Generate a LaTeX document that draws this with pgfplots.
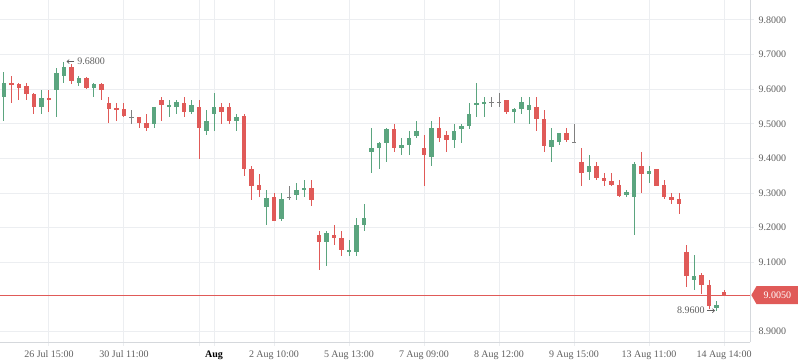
\documentclass[border=0pt]{standalone}
\usepackage{fontspec}
\setmainfont{Liberation Serif}
\usepackage{pgfplots}
\usepackage{pgfplotstable}
\pgfplotsset{compat=1.18}
\usetikzlibrary{shapes.symbols,arrows.meta}
\definecolor{upg}{HTML}{5BA57F}
\definecolor{dnr}{HTML}{E05A58}
\definecolor{dojig}{HTML}{808080}
\definecolor{gridc}{HTML}{ECEEF1}
\definecolor{axc}{HTML}{D5D8DC}
\definecolor{labc}{HTML}{5F5F5F}

% up candles
\pgfplotstableread{
i o h l c
0 9.578 9.649 9.509 9.617
5 9.550 9.598 9.528 9.575
7 9.599 9.661 9.521 9.646
8 9.639 9.680 9.619 9.665
10 9.619 9.639 9.610 9.632
12 9.604 9.618 9.578 9.616
20 9.500 9.549 9.489 9.549
22 9.550 9.569 9.521 9.555
23 9.550 9.569 9.529 9.562
25 9.535 9.569 9.528 9.554
27 9.480 9.539 9.469 9.508
28 9.529 9.589 9.480 9.549
31 9.509 9.528 9.480 9.519
35 9.260 9.309 9.208 9.286
37 9.226 9.299 9.220 9.283
39 9.295 9.329 9.280 9.309
40 9.309 9.338 9.288 9.315
43 9.158 9.190 9.089 9.184
46 9.130 9.164 9.118 9.135
47 9.130 9.228 9.118 9.208
48 9.208 9.268 9.190 9.228
49 9.418 9.488 9.358 9.430
50 9.430 9.448 9.369 9.445
51 9.445 9.488 9.390 9.485
53 9.430 9.459 9.410 9.439
54 9.439 9.479 9.410 9.459
55 9.465 9.508 9.459 9.479
57 9.404 9.508 9.378 9.488
60 9.453 9.500 9.430 9.479
61 9.485 9.500 9.445 9.494
62 9.494 9.560 9.485 9.528
63 9.557 9.618 9.521 9.560
64 9.560 9.577 9.521 9.563
68 9.534 9.546 9.502 9.543
69 9.543 9.577 9.528 9.563
70 9.540 9.577 9.499 9.554
73 9.433 9.488 9.390 9.453
74 9.448 9.473 9.439 9.473
78 9.362 9.410 9.338 9.378
83 9.294 9.309 9.289 9.303
84 9.289 9.390 9.179 9.384
86 9.355 9.378 9.329 9.364
92 9.049 9.121 9.020 9.060
95 8.968 8.988 8.960 8.976
}\upt

% down candles
\pgfplotstableread{
i o h l c
1 9.617 9.639 9.561 9.614
2 9.616 9.618 9.569 9.604
3 9.609 9.619 9.570 9.585
4 9.587 9.590 9.528 9.550
6 9.575 9.598 9.533 9.569
9 9.665 9.673 9.614 9.624
11 9.632 9.636 9.600 9.604
13 9.616 9.618 9.570 9.598
14 9.561 9.578 9.501 9.543
15 9.546 9.561 9.509 9.540
16 9.543 9.561 9.521 9.524
18 9.520 9.521 9.489 9.503
19 9.502 9.528 9.479 9.489
21 9.569 9.578 9.509 9.555
24 9.560 9.578 9.521 9.535
26 9.549 9.569 9.398 9.489
29 9.549 9.560 9.500 9.535
30 9.549 9.560 9.499 9.509
32 9.523 9.528 9.350 9.370
33 9.369 9.377 9.281 9.321
34 9.323 9.355 9.289 9.310
36 9.288 9.299 9.220 9.220
41 9.315 9.338 9.263 9.280
42 9.179 9.190 9.078 9.158
44 9.179 9.208 9.150 9.170
45 9.170 9.190 9.118 9.135
52 9.485 9.500 9.418 9.430
56 9.430 9.468 9.320 9.410
58 9.488 9.520 9.448 9.459
59 9.468 9.479 9.418 9.453
67 9.569 9.569 9.528 9.534
71 9.549 9.577 9.479 9.514
72 9.514 9.540 9.419 9.436
75 9.473 9.488 9.447 9.453
77 9.390 9.430 9.321 9.359
79 9.378 9.390 9.338 9.343
80 9.343 9.358 9.320 9.335
81 9.335 9.358 9.321 9.323
82 9.323 9.338 9.289 9.291
85 9.378 9.419 9.300 9.355
87 9.369 9.369 9.320 9.320
88 9.323 9.338 9.283 9.289
89 9.289 9.300 9.268 9.280
90 9.283 9.300 9.239 9.268
91 9.130 9.150 9.028 9.060
93 9.063 9.069 9.008 9.034
94 9.034 9.049 8.965 8.973
96 9.014 9.020 9.002 9.005
}\dnt

% unchanged candles
\pgfplotstableread{
i o h l c
17 9.519 9.540 9.500 9.519
38 9.288 9.320 9.280 9.288
65 9.562 9.577 9.549 9.562
66 9.562 9.589 9.549 9.562
76 9.447 9.499 9.447 9.447
}\dojt

\pgfplotsset{
  wick/.style={draw=none, mark=none, forget plot,
    error bars/.cd, y dir=both, y explicit, error mark=none,
    error bar style={draw=#1, solid, line width=0.75pt}},
  body/.style={draw=none, mark=none, forget plot,
    error bars/.cd, y dir=both, y explicit, error mark=none,
    error bar style={draw=#1, solid, line width=3.6pt}},
}
\newcommand{\candles}[2]{%
  \addplot[wick=#2] table[x=i, y expr={(\thisrow{h}+\thisrow{l})/2},
     y error expr={(\thisrow{h}-\thisrow{l})/2}] {#1};
  \addplot[body=#2] table[x=i, y expr={(\thisrow{o}+\thisrow{c})/2},
     y error expr={max(abs(\thisrow{o}-\thisrow{c})/2,0.0014)}] {#1};
}

\begin{document}
\begin{tikzpicture}
\useasboundingbox (0pt,0pt) rectangle (598.5pt,-272.25pt);
\begin{axis}[
  at={(0pt,0pt)}, anchor=north west,
  scale only axis, width=562.5pt, height=256.5pt,
  xmin=-0.533, xmax=99.467,
  ymin=8.8694, ymax=9.8578,
  axis x line*=bottom, axis y line*=right,
  axis line style={draw=axc, line width=0.75pt, -},
  grid=major, grid style={draw=gridc, line width=0.75pt},
  tick align=outside, major tick length=3pt,
  tick style={draw=gridc, line width=0.75pt},
  xtick={6,16,26,28,36,46,56,66,76,86,96},
  xticklabels={26 Jul 15:00, 30 Jul 11:00, {}, {\textbf{\color{black}Aug}}, 2 Aug 10:00, 5 Aug 13:00, 7 Aug 09:00, 8 Aug 12:00, 9 Aug 15:00, 13 Aug 11:00, 14 Aug 14:00},
  ytick={8.9,9.1,9.2,9.3,9.4,9.5,9.6,9.7,9.8},
  yticklabels={8.9000,9.1000,9.2000,9.3000,9.4000,9.5000,9.6000,9.7000,9.8000},
  tick label style={font=\fontsize{7.5pt}{9pt}\selectfont, text=labc},
  clip=true,
]
\addplot[dnr, line width=0.75pt, forget plot] coordinates {(-0.533,9.005) (99.467,9.005)};
\candles{\upt}{upg}
\candles{\dnt}{dnr}
\candles{\dojt}{dojig}
\node[anchor=west, inner sep=0pt, text=labc, font=\fontsize{7.5pt}{9pt}\selectfont] at (axis cs:9.75,9.68) {9.6800};
\draw[labc, line width=0.5pt, -{Straight Barb[length=1.6pt,width=3pt]}] (axis cs:9.4,9.68) -- (axis cs:8.35,9.68);
\node[anchor=east, inner sep=0pt, text=labc, font=\fontsize{7.5pt}{9pt}\selectfont] at (axis cs:93.45,8.96) {8.9600};
\draw[labc, line width=0.5pt, -{Straight Barb[length=1.6pt,width=3pt]}] (axis cs:93.75,8.96) -- (axis cs:94.8,8.96);
\coordinate (pl) at (axis cs:99.467,9.005);
\end{axis}
\node[signal, signal to=west, signal pointer angle=120, fill=dnr, text=white,
  minimum height=13.5pt, minimum width=35pt, inner xsep=2pt, inner ysep=1pt,
  anchor=west, font=\fontsize{7.5pt}{9pt}\selectfont] at ([xshift=0.75pt]pl) {9.0050};
\end{tikzpicture}
\end{document}
